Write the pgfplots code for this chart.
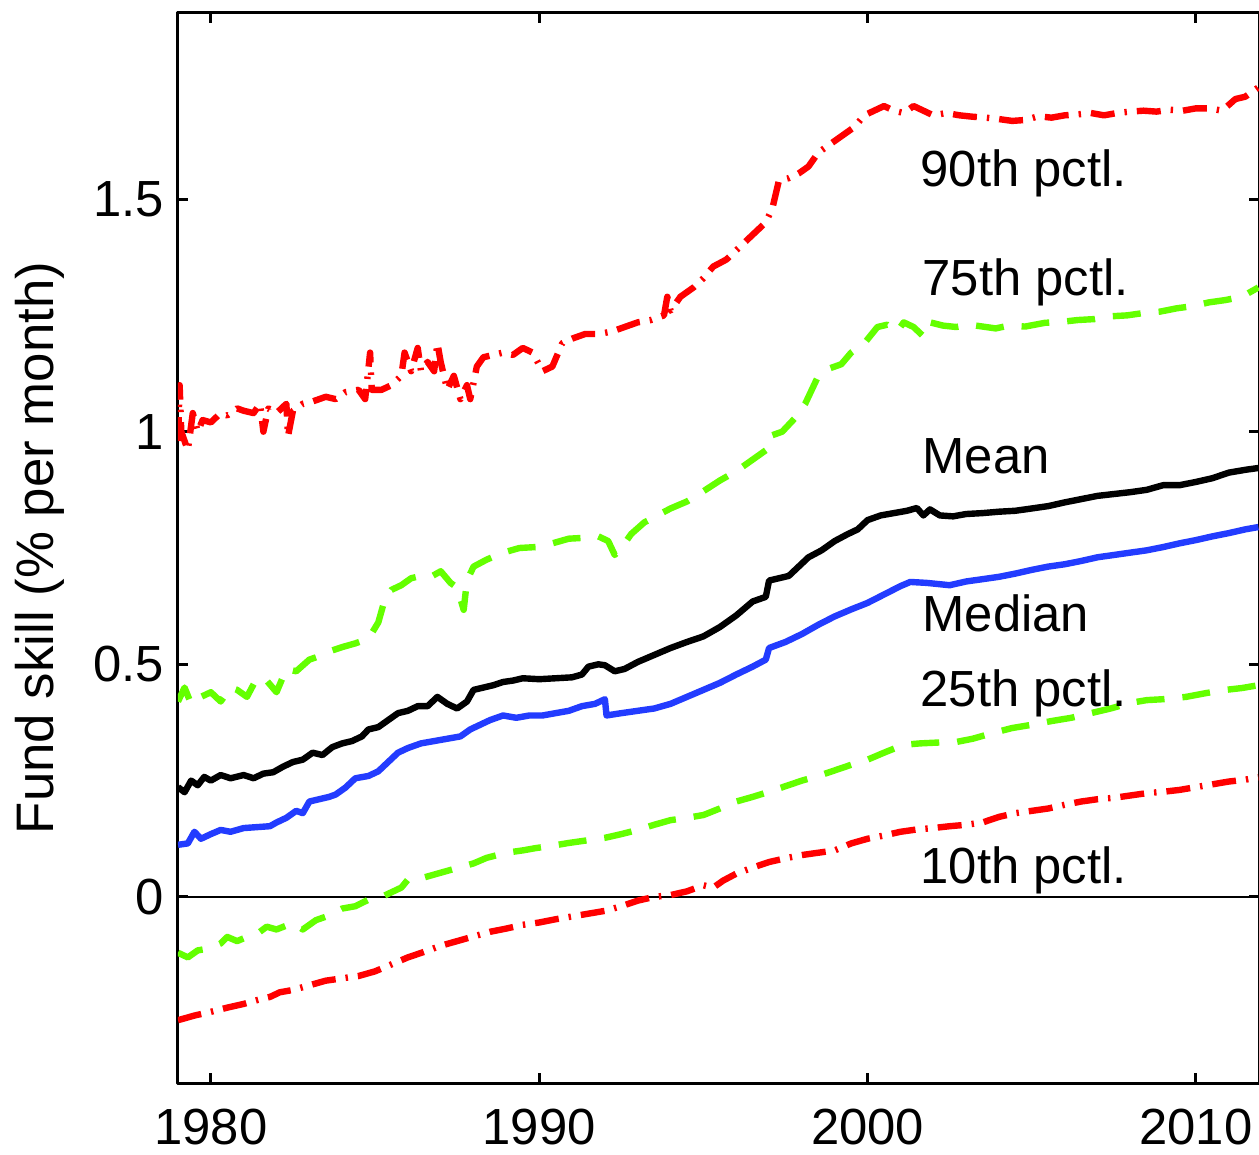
\documentclass[border=0pt]{standalone}
\usepackage{fontspec}
\setmainfont{Liberation Sans}
\usepackage{pgfplots}
\pgfplotsset{compat=1.18}

\definecolor{pctred}{RGB}{255,0,0}
\definecolor{pctgreen}{RGB}{100,255,0}
\definecolor{medblue}{RGB}{35,60,255}

\begin{document}
\begin{tikzpicture}[font=\fontsize{12.7}{15}\selectfont]
\begin{axis}[
  scale only axis,
  width=270.25pt, height=267.5pt,
  xmin=1979, xmax=2011.92,
  ymin=-0.4, ymax=1.9,
  xtick={1980,1990,2000,2010},
  ytick={0,0.5,1,1.5},
  yticklabels={0,0.5,1,1.5},
  /pgf/number format/1000 sep={},
  /pgf/number format/assume math mode=true,
  tick align=inside,
  major tick length=2.5pt,
  axis line style={line width=0.75pt},
  every tick/.style={black, line width=0.75pt},
  xticklabel style={yshift=-3pt},
  ylabel={Fund skill (\% per month)},
  ylabel style={at={(axis description cs:-0.1045,0.5)}, anchor=south, inner sep=0pt, font=\fontsize{13.2}{15}\selectfont},
  line join=round,
]
\addplot[black, line width=0.5pt] coordinates {(1979,0) (2011.92,0)};

% 90th percentile
\addplot[pctred, line width=1.6pt, dash pattern=on 6pt off 2.5pt on 0.6pt off 2.5pt] coordinates {
(1979.0,0.98) (1979.05,1.10) (1979.1,1.0) (1979.3,0.96) (1979.45,1.04) (1979.6,1.0) (1979.75,1.025)
(1980.0,1.02) (1980.3,1.04) (1980.5,1.035) (1980.8,1.05) (1981.0,1.045) (1981.3,1.04) (1981.5,1.06)
(1981.6,1.0) (1981.75,1.05) (1982.0,1.04) (1982.3,1.06) (1982.35,0.99) (1982.5,1.045) (1982.8,1.06)
(1983.1,1.065) (1983.5,1.075) (1983.8,1.07) (1984.1,1.085) (1984.5,1.09) (1984.7,1.07) (1984.85,1.17)
(1984.9,1.09) (1985.2,1.09) (1985.5,1.10) (1985.8,1.12) (1985.9,1.17) (1986.1,1.13) (1986.3,1.18)
(1986.4,1.13) (1986.6,1.15) (1986.8,1.13) (1986.9,1.19) (1987.0,1.15) (1987.2,1.09) (1987.4,1.12)
(1987.6,1.07) (1987.8,1.10) (1987.9,1.07) (1988.1,1.14) (1988.3,1.16) (1988.6,1.165) (1988.9,1.17)
(1989.2,1.165) (1989.5,1.18) (1989.8,1.17) (1990.1,1.13) (1990.4,1.14) (1990.7,1.19) (1991.0,1.20)
(1991.4,1.21) (1991.8,1.21) (1992.2,1.215) (1992.6,1.225) (1993.0,1.235) (1993.4,1.24) (1993.8,1.25)
(1993.9,1.29) (1994.0,1.26) (1994.3,1.29) (1994.7,1.31) (1995.0,1.33) (1995.3,1.355) (1995.7,1.37)
(1996.0,1.39) (1996.3,1.41) (1996.6,1.43) (1996.9,1.45) (1997.1,1.48) (1997.3,1.54) (1997.6,1.545)
(1997.9,1.555) (1998.2,1.57) (1998.5,1.60) (1998.8,1.615) (1999.0,1.625) (1999.3,1.64) (1999.6,1.655)
(1999.9,1.68) (2000.2,1.69) (2000.5,1.70) (2000.8,1.69) (2001.1,1.685) (2001.4,1.70) (2001.7,1.69)
(2002.0,1.68) (2002.4,1.685) (2002.8,1.68) (2003.2,1.677) (2003.6,1.675) (2004.0,1.672) (2004.4,1.668)
(2004.8,1.67) (2005.2,1.678) (2005.6,1.675) (2006.0,1.68) (2006.4,1.682) (2006.8,1.685) (2007.2,1.68)
(2007.6,1.685) (2008.0,1.688) (2008.4,1.69) (2008.8,1.688) (2009.2,1.692) (2009.6,1.69) (2010.0,1.695)
(2010.4,1.695) (2010.8,1.69) (2011.2,1.715) (2011.5,1.72) (2011.9,1.74)
};

% 75th percentile
\addplot[pctgreen, line width=1.6pt, dash pattern=on 7pt off 4.5pt] coordinates {
(1979.0,0.42) (1979.2,0.45) (1979.4,0.415) (1979.7,0.43) (1980.0,0.44) (1980.3,0.42) (1980.6,0.45)
(1980.8,0.445) (1981.1,0.43) (1981.4,0.47) (1981.7,0.465) (1982.0,0.44) (1982.3,0.49) (1982.6,0.485)
(1983.0,0.51) (1983.4,0.52) (1983.7,0.53) (1984.0,0.537) (1984.4,0.545) (1984.8,0.555) (1985.1,0.59)
(1985.3,0.64) (1985.5,0.66) (1985.8,0.67) (1986.1,0.685) (1986.4,0.69) (1986.7,0.688) (1987.0,0.70)
(1987.3,0.675) (1987.5,0.665) (1987.7,0.617) (1987.8,0.68) (1988.0,0.71) (1988.4,0.725) (1988.9,0.74)
(1989.4,0.75) (1989.9,0.752) (1990.4,0.76) (1990.9,0.77) (1991.4,0.772) (1991.8,0.775) (1992.1,0.765)
(1992.3,0.735) (1992.5,0.75) (1992.8,0.78) (1993.2,0.805) (1993.6,0.82) (1994.0,0.835) (1994.5,0.85)
(1995.0,0.872) (1995.5,0.895) (1996.0,0.915) (1996.5,0.94) (1996.9,0.96) (1997.0,0.99) (1997.4,1.0)
(1997.8,1.03) (1998.1,1.06) (1998.5,1.12) (1998.8,1.135) (1999.2,1.145) (1999.5,1.17) (1999.9,1.19)
(2000.3,1.225) (2000.6,1.23) (2000.9,1.215) (2001.1,1.235) (2001.4,1.225) (2001.7,1.205) (2001.9,1.235)
(2002.3,1.228) (2002.7,1.225) (2003.1,1.23) (2003.5,1.226) (2003.9,1.222) (2004.3,1.228) (2004.8,1.226)
(2005.4,1.234) (2005.9,1.236) (2006.4,1.24) (2006.9,1.242) (2007.4,1.248) (2007.9,1.25) (2008.4,1.255)
(2008.9,1.258) (2009.4,1.265) (2009.9,1.27) (2010.4,1.278) (2010.9,1.283) (2011.4,1.29) (2011.9,1.31)
};

% Mean
\addplot[black, line width=1.6pt] coordinates {
(1979.0,0.236) (1979.2,0.225) (1979.4,0.25) (1979.6,0.24) (1979.8,0.258) (1980.0,0.25) (1980.3,0.262)
(1980.6,0.255) (1981.0,0.262) (1981.3,0.255) (1981.6,0.265) (1981.9,0.268) (1982.2,0.28) (1982.5,0.29)
(1982.8,0.295) (1983.1,0.31) (1983.4,0.305) (1983.7,0.322) (1984.0,0.33) (1984.3,0.335) (1984.6,0.345)
(1984.8,0.36) (1985.1,0.365) (1985.4,0.38) (1985.7,0.395) (1986.0,0.40) (1986.3,0.41) (1986.6,0.41)
(1986.9,0.43) (1987.2,0.415) (1987.5,0.405) (1987.8,0.42) (1988.0,0.445) (1988.3,0.45) (1988.6,0.455)
(1988.9,0.462) (1989.2,0.465) (1989.5,0.47) (1990.0,0.468) (1990.5,0.47) (1991.0,0.472) (1991.3,0.478)
(1991.5,0.495) (1991.8,0.50) (1992.0,0.498) (1992.3,0.485) (1992.6,0.49) (1993.0,0.505) (1993.5,0.52)
(1994.0,0.535) (1994.5,0.548) (1995.0,0.56) (1995.5,0.58) (1996.0,0.605) (1996.5,0.635) (1996.9,0.645)
(1997.0,0.68) (1997.3,0.685) (1997.6,0.69) (1997.9,0.71) (1998.2,0.73) (1998.6,0.745) (1999.0,0.765)
(1999.4,0.78) (1999.7,0.79) (2000.0,0.81) (2000.4,0.82) (2000.8,0.825) (2001.2,0.83) (2001.5,0.836)
(2001.7,0.82) (2001.9,0.833) (2002.2,0.82) (2002.6,0.818) (2003.0,0.823) (2003.5,0.825) (2004.0,0.828)
(2004.5,0.83) (2005.0,0.835) (2005.5,0.84) (2006.0,0.848) (2006.5,0.855) (2007.0,0.862) (2007.5,0.866)
(2008.0,0.87) (2008.5,0.875) (2009.0,0.885) (2009.5,0.885) (2010.0,0.892) (2010.5,0.9) (2011.0,0.912)
(2011.5,0.918) (2011.9,0.922)
};

% Median
\addplot[medblue, line width=1.6pt] coordinates {
(1979.0,0.112) (1979.3,0.115) (1979.5,0.14) (1979.7,0.125) (1980.0,0.135) (1980.3,0.144) (1980.6,0.14)
(1981.0,0.148) (1981.4,0.15) (1981.8,0.152) (1982.0,0.16) (1982.3,0.17) (1982.6,0.185) (1982.8,0.18)
(1983.0,0.205) (1983.3,0.21) (1983.6,0.215) (1983.8,0.22) (1984.1,0.235) (1984.4,0.255) (1984.8,0.26)
(1985.1,0.27) (1985.4,0.29) (1985.7,0.31) (1986.0,0.32) (1986.4,0.33) (1986.8,0.335) (1987.2,0.34)
(1987.6,0.345) (1987.9,0.36) (1988.2,0.37) (1988.5,0.38) (1988.9,0.39) (1989.3,0.385) (1989.7,0.39)
(1990.1,0.39) (1990.5,0.395) (1990.9,0.40) (1991.3,0.41) (1991.7,0.415) (1992.0,0.425) (1992.05,0.39)
(1992.5,0.395) (1993.0,0.40) (1993.5,0.405) (1994.0,0.415) (1994.5,0.43) (1995.0,0.445) (1995.5,0.46)
(1996.0,0.478) (1996.5,0.495) (1996.9,0.51) (1997.0,0.535) (1997.5,0.548) (1998.0,0.565) (1998.5,0.585)
(1999.0,0.603) (1999.5,0.618) (2000.0,0.632) (2000.5,0.65) (2001.0,0.668) (2001.3,0.677) (2001.8,0.675)
(2002.5,0.67) (2003.0,0.678) (2003.5,0.683) (2004.0,0.688) (2004.5,0.695) (2005.0,0.703) (2005.5,0.71)
(2006.0,0.715) (2006.5,0.722) (2007.0,0.73) (2007.5,0.735) (2008.0,0.74) (2008.5,0.745) (2009.0,0.752)
(2009.5,0.76) (2010.0,0.767) (2010.5,0.775) (2011.0,0.782) (2011.5,0.79) (2011.9,0.795)
};

% 25th percentile
\addplot[pctgreen, line width=1.6pt, dash pattern=on 7pt off 4.5pt] coordinates {
(1979.0,-0.12) (1979.3,-0.13) (1979.6,-0.115) (1980.0,-0.11) (1980.3,-0.1) (1980.5,-0.086) (1980.8,-0.095)
(1981.1,-0.086) (1981.4,-0.08) (1981.7,-0.064) (1982.0,-0.07) (1982.5,-0.056) (1982.8,-0.07) (1983.2,-0.05)
(1983.6,-0.04) (1984.0,-0.025) (1984.4,-0.02) (1984.8,-0.006) (1985.2,0.0) (1985.5,0.01) (1985.8,0.02)
(1986.0,0.037) (1986.4,0.04) (1986.9,0.05) (1987.5,0.062) (1988.0,0.072) (1988.4,0.084) (1989.0,0.095)
(1989.5,0.1) (1989.9,0.105) (1990.4,0.11) (1990.9,0.116) (1991.5,0.122) (1992.0,0.127) (1992.5,0.135)
(1993.0,0.144) (1993.5,0.155) (1994.0,0.165) (1994.5,0.17) (1995.0,0.176) (1995.5,0.19) (1996.0,0.205)
(1996.5,0.215) (1997.0,0.226) (1997.5,0.238) (1998.0,0.25) (1998.5,0.26) (1999.0,0.272) (1999.5,0.284)
(2000.0,0.295) (2000.5,0.31) (2001.1,0.327) (2001.6,0.33) (2002.2,0.332) (2002.7,0.333) (2003.2,0.34)
(2003.8,0.352) (2004.4,0.363) (2005.0,0.37) (2005.6,0.378) (2006.2,0.385) (2006.8,0.395) (2007.4,0.405)
(2008.0,0.417) (2008.5,0.423) (2009.0,0.425) (2009.7,0.43) (2010.3,0.438) (2010.9,0.445) (2011.4,0.449)
(2011.9,0.455)
};

% 10th percentile
\addplot[pctred, line width=1.6pt, dash pattern=on 6pt off 2.5pt on 0.6pt off 2.5pt] coordinates {
(1979.0,-0.265) (1979.5,-0.255) (1980.0,-0.247) (1980.5,-0.238) (1981.0,-0.23) (1981.5,-0.22) (1981.8,-0.215)
(1982.1,-0.205) (1982.5,-0.2) (1983.0,-0.19) (1983.5,-0.18) (1984.0,-0.175) (1984.5,-0.17) (1985.0,-0.16)
(1985.5,-0.145) (1986.0,-0.13) (1986.5,-0.118) (1987.0,-0.105) (1987.5,-0.095) (1988.0,-0.085) (1988.5,-0.075)
(1989.0,-0.068) (1989.5,-0.06) (1990.0,-0.055) (1990.5,-0.048) (1991.0,-0.042) (1991.5,-0.036) (1992.0,-0.03)
(1992.5,-0.02) (1993.0,-0.008) (1993.5,0.0) (1994.0,0.004) (1994.5,0.012) (1995.0,0.025) (1995.3,0.02)
(1995.6,0.035) (1996.0,0.05) (1996.5,0.063) (1997.0,0.075) (1997.5,0.083) (1998.0,0.09) (1998.5,0.095)
(1999.0,0.1) (1999.5,0.115) (2000.0,0.125) (2000.5,0.132) (2001.0,0.14) (2001.5,0.145) (2002.0,0.148)
(2002.5,0.152) (2003.0,0.155) (2003.5,0.16) (2004.0,0.172) (2004.5,0.18) (2005.0,0.185) (2005.5,0.19)
(2006.0,0.198) (2006.5,0.205) (2007.0,0.21) (2007.5,0.213) (2008.0,0.218) (2008.5,0.223) (2009.0,0.226)
(2009.5,0.23) (2010.0,0.236) (2010.5,0.242) (2011.0,0.248) (2011.5,0.252) (2011.9,0.257)
};

\node[anchor=base west, inner sep=0pt] at (axis cs:2001.59,1.526) {90th pctl.};
\node[anchor=base west, inner sep=0pt] at (axis cs:2001.65,1.292) {75th pctl.};
\node[anchor=base west, inner sep=0pt] at (axis cs:2001.65,0.911) {Mean};
\node[anchor=base west, inner sep=0pt] at (axis cs:2001.65,0.570) {Median};
\node[anchor=base west, inner sep=0pt] at (axis cs:2001.59,0.410) {25th pctl.};
\node[anchor=base west, inner sep=0pt] at (axis cs:2001.59,0.028) {10th pctl.};
\end{axis}
\pgfresetboundingbox
\path ([xshift=-44.5pt,yshift=3.25pt]current axis.north west) rectangle ([yshift=-17.75pt]current axis.south east);
\end{tikzpicture}
\end{document}
